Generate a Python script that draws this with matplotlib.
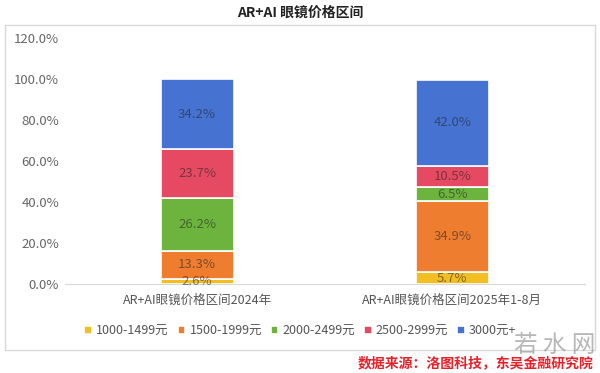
import numpy as np
import matplotlib.pyplot as plt
from matplotlib.patches import Rectangle

plt.rcParams['font.family'] = ['Noto Sans CJK SC', 'DejaVu Sans']

categories = ["AR+AI眼镜价格区间2024年", "AR+AI眼镜价格区间2025年1-8月"]
price_bands = ["1000-1499元", "1500-1999元", "2000-2499元", "2500-2999元", "3000元+"]
shares_2024 = [2.6, 13.3, 26.2, 23.7, 34.2]
shares_2025 = [5.7, 34.9, 6.5, 10.5, 42.0]
colors = ["#F2BE22", "#EE7D2F", "#6DB43E", "#E64A62", "#4673D1"]
yticks = [0, 20, 40, 60, 80, 100, 120]


def main():
    fig = plt.figure(figsize=(6, 3.73), dpi=100)
    ax = fig.add_axes([0.108, 0.239, 0.867, 0.659])

    # frame around the chart area
    fig.patches.append(Rectangle((0.008, 0.062), 0.984, 0.872, transform=fig.transFigure,
                                 fill=False, edgecolor="#d9d9d9", linewidth=1))

    data = np.array([shares_2024, shares_2025])
    x = np.arange(len(categories))
    bottom = np.zeros(len(categories))
    for i, band in enumerate(price_bands):
        vals = data[:, i]
        ax.bar(x, vals, 0.286, bottom=bottom, color=colors[i], edgecolor="white",
               linewidth=1.2, label=band)
        for xi, v, b in zip(x, vals, bottom):
            ax.text(xi, b + v / 2, f"{v:.1f}%", ha="center", va="center",
                    fontsize=9.5, color="#222222", alpha=0.55)
        bottom += vals

    ax.set_xlim(-0.518, 1.52)
    ax.set_ylim(0, 120)
    ax.set_yticks(yticks)
    ax.set_yticklabels([f"{t:.1f}%" for t in yticks], fontsize=9.5, color="#666666")
    ax.set_xticks(x)
    ax.set_xticklabels(categories, fontsize=9, color="#555555")
    for s in ["top", "right", "left"]:
        ax.spines[s].set_visible(False)
    ax.spines["bottom"].set_color("#d9d9d9")
    ax.tick_params(axis="y", length=0, pad=4)
    ax.tick_params(axis="x", length=0, pad=7)

    ax.legend(loc="upper center", bbox_to_anchor=(0.453, -0.12), ncol=5, frameon=False,
              fontsize=9, handlelength=0.6, handleheight=0.6, handletextpad=0.35,
              columnspacing=0.7, labelcolor="#555555")

    fig.text(0.5, 0.965, "AR+AI 眼镜价格区间", ha="center", va="center",
             fontsize=10, fontweight="bold", color="#222222")
    fig.text(0.99, 0.025, "数据来源：洛图科技，东吴金融研究院", ha="right", va="center",
             fontsize=10, color="#e8202a", style="italic", fontweight="bold")
    fig.text(0.925, 0.075, "若 水 网", ha="center", va="center",
             fontsize=17, color="#888888", alpha=0.6)

    fig.savefig("out.png", dpi=100)


if __name__ == '__main__':
    main()
